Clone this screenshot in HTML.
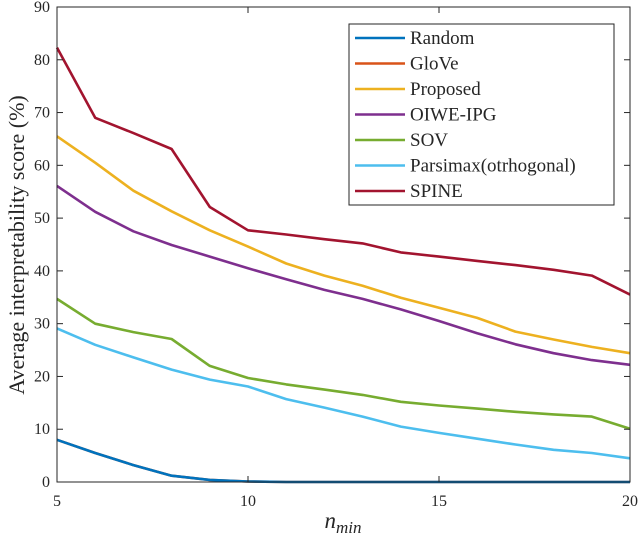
<!DOCTYPE html>
<html><head><meta charset="utf-8"><style>
html,body{margin:0;padding:0;background:#fff;width:640px;height:541px;overflow:hidden}
svg text{font-family:"Liberation Serif",serif;fill:#262626}
</style></head><body>
<svg id="chart" width="640" height="541"></svg>
<script>
const xs=[5,6,7,8,9,10,11,12,13,14,15,16,17,18,19,20];
const seriesNames=["Random","GloVe","Proposed","OIWE-IPG","SOV","Parsimax(otrhogonal)","SPINE"];
const seriesColors=["#0072BD","#D95319","#EDB120","#7E2F8E","#77AC30","#4DBEEE","#A2142F"];
const randomVals=[8,5.5,3.2,1.2,0.4,0.1,0,0,0,0,0,0,0,0,0,0];
const gloveVals=[8,5.5,3.2,1.2,0.4,0.1,0,0,0,0,0,0,0,0,0,0];
const proposedVals=[65.5,60.5,55.2,51.3,47.7,44.6,41.4,39.1,37.2,34.9,33,31.1,28.5,27,25.6,24.4];
const oiweVals=[56.1,51.2,47.5,44.9,42.7,40.5,38.4,36.4,34.7,32.7,30.5,28.2,26.1,24.4,23.1,22.2];
const sovVals=[34.7,30,28.4,27.1,22,19.7,18.5,17.5,16.5,15.2,14.5,13.9,13.3,12.8,12.4,10.1];
const parsimaxVals=[29.1,26,23.6,21.3,19.4,18.1,15.7,14.1,12.4,10.5,9.3,8.2,7.1,6.1,5.5,4.5];
const spineVals=[82.3,69,66.1,63.1,52.1,47.7,46.9,46,45.2,43.5,42.7,41.9,41.1,40.2,39.1,35.5];
const xTicks=[5,10,15,20];
const yTicks=[0,10,20,30,40,50,60,70,80,90];
const allSeries=[randomVals,gloveVals,proposedVals,oiweVals,sovVals,parsimaxVals,spineVals];

const L=57,R=630,T=7,B=482;
const sx=v=>L+(v-5)/(20-5)*(R-L);
const sy=v=>B-(v-0)/(90-0)*(B-T);
const svg=document.getElementById('chart');
const NS='http://www.w3.org/2000/svg';
function mk(tag,attrs,parent){const e=document.createElementNS(NS,tag);for(const k in attrs)e.setAttribute(k,attrs[k]);(parent||svg).appendChild(e);return e;}

const drawOrder=[1,0,2,3,4,5,6];
drawOrder.forEach(i=>{
  const d=xs.map((x,j)=>(j?'L':'M')+sx(x).toFixed(1)+','+sy(allSeries[i][j]).toFixed(1)).join(' ');
  const p=mk('path',{d:d,fill:'none',stroke:seriesColors[i],'stroke-width':2.6,'stroke-linejoin':'round'});
  
  
});

const box=mk('rect',{x:L,y:T,width:R-L,height:B-T,fill:'none',stroke:'#262626','stroke-width':1});



xTicks.forEach(t=>{
  const x=sx(t);
  mk('line',{x1:x,x2:x,y1:B,y2:B-6,stroke:'#262626'});
  mk('line',{x1:x,x2:x,y1:T,y2:T+6,stroke:'#262626'});
  const tx=mk('text',{x:x,y:B+24,'text-anchor':'middle','font-size':16});
  tx.textContent=t;
  
  
});
yTicks.forEach(t=>{
  const y=sy(t);
  mk('line',{x1:L,x2:L+6,y1:y,y2:y,stroke:'#262626'});
  mk('line',{x1:R,x2:R-6,y1:y,y2:y,stroke:'#262626'});
  const tx=mk('text',{x:L-7,y:y+5,'text-anchor':'end','font-size':16});
  tx.textContent=t;
  
  
});

const yt=mk('text',{x:0,y:0,'text-anchor':'middle','font-size':22,transform:'translate(24,245) rotate(-90)'});
yt.textContent='Average interpretability score (%)';


const xt=mk('text',{x:343,y:528,'text-anchor':'middle','font-size':23,'font-style':'italic'});
xt.innerHTML='n<tspan font-size="17" dy="5">min</tspan>';



const lg=mk('g',{});


mk('rect',{x:349,y:24,width:265,height:181,fill:'#fff',stroke:'#262626','stroke-width':1},lg);
seriesNames.forEach((n,i)=>{
  const y=38+i*25.5;
  const g=mk('g',{},lg);
  
  
  mk('line',{x1:355,x2:405,y1:y,y2:y,stroke:seriesColors[i],'stroke-width':2.6},g);
  const t=mk('text',{x:410,y:y+6,'font-size':19},g);
  t.textContent=n;
});
</script>
</body></html>
